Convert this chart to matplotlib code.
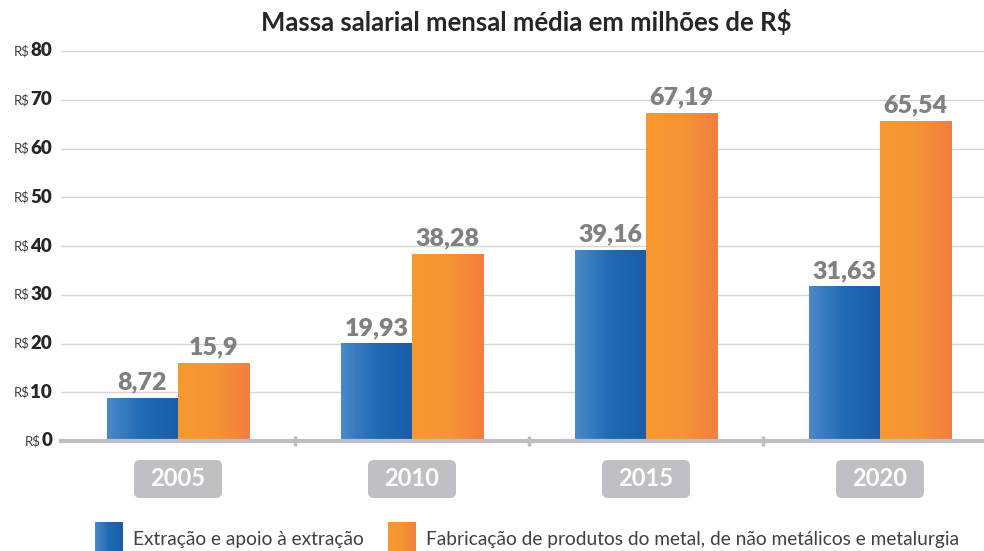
import numpy as np
import matplotlib
matplotlib.use("Agg")
import matplotlib.pyplot as plt
from matplotlib.patches import FancyBboxPatch
from matplotlib.colors import LinearSegmentedColormap
import matplotlib.transforms as mtransforms

years = ["2005", "2010", "2015", "2020"]
extracao = [8.72, 19.93, 39.16, 31.63]
fabricacao = [15.9, 38.28, 67.19, 65.54]
labels_extracao = ["8,72", "19,93", "39,16", "31,63"]
labels_fabricacao = ["15,9", "38,28", "67,19", "65,54"]
yticks = [0, 10, 20, 30, 40, 50, 60, 70, 80]
series_names = ["Extração e apoio à extração",
                "Fabricação de produtos do metal, de não metálicos e metalurgia"]
title = "Massa salarial mensal média em milhões de R$"

plt.rcParams['font.family'] = ['Lato', 'DejaVu Sans']

W, H = 984, 551
fig = plt.figure(figsize=(W / 100, H / 100), dpi=100)
ax = fig.add_axes([61 / W, 1 - 441 / H, 1 - 61 / W, (441 - 51) / H])

blue_cmap = LinearSegmentedColormap.from_list("b", ["#4a89c9", "#1f6ab3", "#1a5ca8"])
orange_cmap = LinearSegmentedColormap.from_list("o", ["#f7992f", "#f59535", "#f27e40"])
grad = np.linspace(0, 1, 256).reshape(1, -1)

x = np.arange(len(years))
bw = 0.305
xlim = (-0.5, (W - 61) / 234 - 0.5)

for yv in yticks[1:]:
    ax.axhline(yv, color="#d6d6d6", lw=1.0, zorder=0)

def grad_bar(xc, h, cmap):
    left = xc - bw / 2
    ax.imshow(grad, cmap=cmap, aspect="auto",
              extent=(left, left + bw, 0, h), zorder=2, interpolation="bicubic")
    ax.bar(xc, h, width=bw, color="none", edgecolor="none", zorder=1)

for i in range(len(years)):
    xb = x[i] - bw / 2
    xo = x[i] + bw / 2
    grad_bar(xb, extracao[i], blue_cmap)
    grad_bar(xo, fabricacao[i], orange_cmap)
    ax.text(xb, extracao[i] + 1.0, labels_extracao[i], ha="center", va="bottom",
            fontsize=18, fontweight="heavy", color="#808080", zorder=3)
    ax.text(xo, fabricacao[i] + 1.0, labels_fabricacao[i], ha="center", va="bottom",
            fontsize=18, fontweight="heavy", color="#808080", zorder=3)

ax.set_xlim(*xlim)
ax.set_ylim(0, 80)

# axis line
ax.axhline(0, color="#bfbfc3", lw=3, zorder=4, clip_on=False)
for b in [0.5, 1.5, 2.5]:
    ax.plot([b, b], [-1.0, 1.0], color="#bfbfc3", lw=2.5, zorder=4, clip_on=False,
            solid_capstyle="butt")

for s in ax.spines.values():
    s.set_visible(False)
ax.set_xticks([])
ax.set_yticks([])

# y tick labels: small "R$" + bold number
fig.canvas.draw()
renderer = fig.canvas.get_renderer()
trans = mtransforms.blended_transform_factory(fig.transFigure, ax.transData)
for yv in yticks:
    t = fig.text(52 / W, yv, str(yv), ha="right", va="center", fontsize=13.5,
                 fontweight="heavy", color="#262626", transform=trans)
    bb = t.get_window_extent(renderer)
    fig.text(bb.x0 / W - 0.5 / W, yv, "R$", ha="right", va="center", fontsize=9.5,
             color="#404040", transform=trans)

# year label boxes
for i, yr in enumerate(years):
    xc_disp = ax.transData.transform((x[i], 0))[0]
    bx0 = (xc_disp - 44) / W
    by0 = 1 - 498 / H
    box = FancyBboxPatch((bx0, by0), 88 / W, 38 / H,
                         boxstyle="round,pad=0,rounding_size=0.006",
                         transform=fig.transFigure, facecolor="#c0c0c4",
                         edgecolor="none", mutation_aspect=W / H)
    fig.patches.append(box)
    fig.text(xc_disp / W, 1 - 479 / H, yr, ha="center", va="center", fontsize=17,
             fontweight="bold", color="white")

# title
fig.text(526 / W, 1 - 22 / H, title, ha="center", va="center", fontsize=18.5,
         fontweight="bold", color="#262626")

# legend
def legend_square(x0, cmap):
    axl = fig.add_axes([x0 / W, 0, 28 / W, 29 / H])
    axl.imshow(grad, cmap=cmap, aspect="auto", extent=(0, 1, 0, 1), interpolation="bicubic")
    axl.set_axis_off()

legend_square(95, blue_cmap)
fig.text(133 / W, 1 - 539 / H, series_names[0], ha="left", va="center",
         fontsize=13.8, color="#404040")
legend_square(388, orange_cmap)
fig.text(426 / W, 1 - 539 / H, series_names[1], ha="left", va="center",
         fontsize=13.8, color="#404040")

fig.savefig("out.png", dpi=100)
